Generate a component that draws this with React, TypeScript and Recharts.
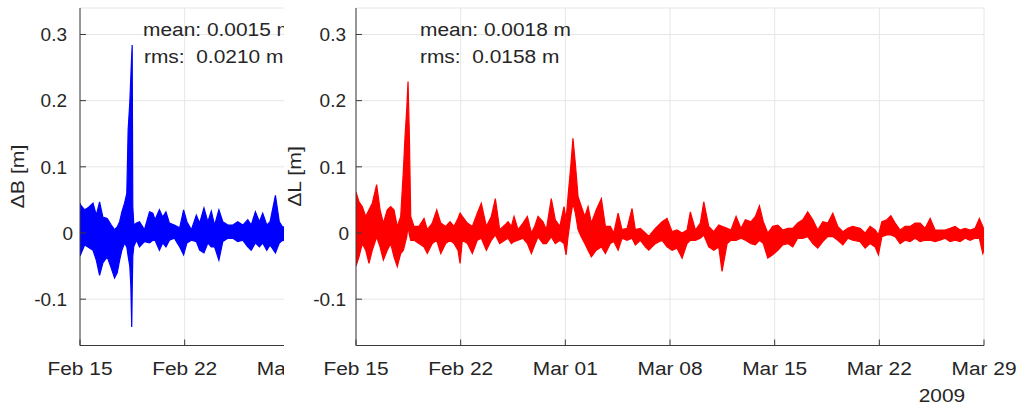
import React from 'react';
import { ComposedChart, Area, XAxis, YAxis, CartesianGrid } from 'recharts';

const FONT = '"Liberation Sans", Arial, Helvetica, sans-serif';
const TXT = '#262626';
const AX = '#3a3a3a';
const GRID = '#e6e6e6';
const FS = 19;
const SX = 1.1;

// x axis: days since Feb 15, 2009
const dayTicks = [0, 7, 14, 21, 28, 35, 42];
const dayLabels = ['Feb 15', 'Feb 22', 'Mar 01', 'Mar 08', 'Mar 15', 'Mar 22', 'Mar 29'];
const leftDayTicks = [0, 7, 14];
const yTicks = [-0.1, 0, 0.1, 0.2, 0.3];
const yLabels = ['-0.1', '0', '0.1', '0.2', '0.3'];
const yDomain = [-0.17, 0.34];

// ΔB envelope (upper / lower)
const bDays = [0, 0.05, 0.31, 0.53, 0.87, 1.09, 1.31, 1.53, 1.82, 2.09, 2.31, 2.49, 2.65, 2.8, 2.98, 3.13, 3.22, 3.33, 3.4, 3.46, 3.49, 3.53, 3.6, 3.78, 3.98, 4.31, 4.65, 4.87, 5.02, 5.31, 5.53, 5.75, 5.98, 6.31, 6.67, 6.93, 7.15, 7.45, 7.78, 8.0, 8.29, 8.55, 8.78, 9.0, 9.29, 9.55, 9.89, 10.22, 10.55, 10.89, 11.22, 11.45, 11.73, 12.0, 12.22, 12.49, 12.71, 13.07, 13.33, 13.55, 13.8];
const bHigh = [0.045, 0.042, 0.035, 0.038, 0.045, 0.027, 0.047, 0.024, 0.022, 0.012, 0.005, 0.009, 0.017, 0.032, 0.045, 0.06, 0.156, 0.197, 0.236, 0.27, 0.284, 0.04, 0.012, 0.015, 0.017, 0.005, 0.032, 0.03, 0.02, 0.035, 0.024, 0.032, 0.015, 0.012, 0.008, 0.035, 0.017, 0.005, 0.027, 0.015, 0.038, 0.017, 0.033, 0.012, 0.035, 0.017, 0.012, 0.012, 0.017, 0.012, 0.02, 0.012, 0.032, 0.017, 0.03, 0.012, 0.017, 0.057, 0.017, 0.009, 0.01];
const bLow = [-0.035, -0.032, -0.018, -0.021, -0.026, -0.041, -0.064, -0.045, -0.036, -0.053, -0.068, -0.06, -0.041, -0.026, -0.015, -0.021, -0.035, -0.05, -0.08, -0.142, -0.09, -0.035, -0.02, -0.011, -0.021, -0.013, -0.015, -0.011, -0.011, -0.026, -0.015, -0.021, -0.011, -0.008, -0.021, -0.033, -0.015, -0.011, -0.013, -0.026, -0.03, -0.015, -0.021, -0.021, -0.041, -0.013, -0.008, -0.008, -0.013, -0.011, -0.021, -0.026, -0.015, -0.021, -0.015, -0.026, -0.018, -0.03, -0.015, -0.011, -0.012];

// ΔL envelope (upper / lower)
const lDays = [0, 0.2, 0.42, 0.65, 0.87, 1.09, 1.38, 1.61, 1.83, 2.09, 2.32, 2.54, 2.76, 2.99, 3.17, 3.28, 3.39, 3.48, 3.57, 3.66, 3.88, 4.21, 4.55, 4.77, 5.1, 5.4, 5.67, 6.0, 6.29, 6.56, 6.82, 6.96, 7.11, 7.45, 7.78, 8.11, 8.38, 8.72, 9.05, 9.32, 9.61, 9.95, 10.17, 10.39, 10.57, 10.84, 11.17, 11.46, 11.73, 11.95, 12.17, 12.51, 12.73, 13.06, 13.33, 13.63, 13.91, 14.05, 14.18, 14.36, 14.51, 14.67, 14.85, 15.07, 15.3, 15.52, 15.74, 16.07, 16.41, 16.68, 17.01, 17.24, 17.53, 17.79, 18.13, 18.46, 18.68, 19.02, 19.35, 19.58, 20.02, 20.47, 20.8, 21.14, 21.47, 21.81, 22.14, 22.36, 22.7, 23.03, 23.26, 23.59, 23.93, 24.26, 24.48, 24.82, 25.08, 25.42, 25.75, 26.04, 26.42, 26.71, 26.98, 27.24, 27.54, 27.87, 28.21, 28.54, 28.88, 29.21, 29.54, 29.88, 30.21, 30.55, 30.88, 31.22, 31.55, 31.89, 32.22, 32.56, 32.89, 33.22, 33.71, 34.05, 34.38, 34.72, 34.94, 35.17, 35.5, 35.77, 36.06, 36.39, 36.72, 37.06, 37.39, 37.73, 38.06, 38.4, 38.73, 39.06, 39.4, 39.73, 40.07, 40.4, 40.74, 41.07, 41.4, 41.69, 41.92, 42];
const lHigh = [0.062, 0.047, 0.04, 0.025, 0.035, 0.045, 0.073, 0.035, 0.015, 0.035, 0.04, 0.035, 0.01, 0.025, 0.095, 0.146, 0.186, 0.229, 0.146, 0.025, 0.01, 0.01, 0.022, 0.005, 0.015, 0.035, 0.015, 0.01, 0.017, 0.01, 0.022, 0.03, 0.025, 0.015, 0.01, 0.03, 0.045, 0.01, 0.025, 0.052, 0.005, 0.012, 0.017, 0.01, 0.025, 0.005, 0.015, 0.025, 0.0, 0.01, 0.025, 0.017, 0.005, 0.052, 0.02, 0.01, 0.04, 0.02, 0.055, 0.1, 0.143, 0.105, 0.055, 0.04, 0.025, 0.04, 0.015, 0.035, 0.052, 0.01, 0.01, 0.0, 0.03, 0.005, 0.007, 0.037, 0.005, 0.007, 0.0, -0.005, 0.007, 0.017, 0.022, 0.002, 0.0045, 0.0, 0.0045, 0.032, 0.0045, 0.015, 0.047, 0.01, 0.002, 0.012, 0.01, 0.007, 0.0045, 0.025, 0.007, 0.02, 0.017, 0.025, 0.041, 0.017, 0.0, 0.01, 0.012, 0.0045, 0.007, 0.007, 0.015, 0.02, 0.032, 0.02, 0.0045, 0.017, 0.015, 0.03, 0.01, 0.002, 0.007, 0.01, 0.007, 0.0, 0.01, 0.0045, -0.003, 0.017, 0.02, 0.026, 0.015, 0.0045, 0.01, 0.01, 0.015, 0.015, 0.007, 0.022, 0.0045, 0.0045, 0.0045, 0.007, 0.01, 0.0045, 0.007, 0.0045, 0.007, 0.022, 0.01, 0.0045];
const lLow = [-0.05, -0.036, -0.016, -0.026, -0.046, -0.026, -0.006, -0.021, -0.041, -0.026, -0.016, -0.036, -0.051, -0.031, -0.026, -0.016, -0.006, 0.01, -0.003, -0.011, -0.011, -0.016, -0.021, -0.031, -0.016, -0.011, -0.031, -0.016, -0.011, -0.016, -0.026, -0.046, -0.011, -0.016, -0.031, -0.011, -0.008, -0.026, -0.011, -0.003, -0.016, -0.011, -0.008, -0.016, -0.013, -0.011, -0.008, -0.016, -0.031, -0.018, -0.006, -0.016, -0.016, -0.006, -0.016, -0.011, -0.016, -0.033, -0.006, 0.025, 0.045, 0.03, 0.005, -0.006, -0.016, -0.026, -0.036, -0.026, -0.021, -0.031, -0.016, -0.013, -0.026, -0.008, -0.011, -0.008, -0.018, -0.011, -0.021, -0.026, -0.016, -0.011, -0.021, -0.026, -0.023, -0.038, -0.016, -0.011, -0.011, -0.008, -0.003, -0.021, -0.026, -0.021, -0.058, -0.016, -0.011, -0.011, -0.008, -0.011, -0.016, -0.018, -0.011, -0.016, -0.038, -0.033, -0.026, -0.018, -0.016, -0.021, -0.008, -0.008, -0.0055, -0.016, -0.023, -0.013, -0.0055, -0.0055, -0.011, -0.018, -0.008, -0.011, -0.013, -0.023, -0.016, -0.021, -0.033, -0.0055, -0.003, -0.003, -0.0055, -0.016, -0.011, -0.013, -0.008, -0.013, -0.011, -0.011, -0.013, -0.011, -0.008, -0.013, -0.011, -0.013, -0.008, -0.011, -0.008, -0.008, -0.031, -0.026];

const bData = bDays.map((d, i) => ({ day: d, band: [bLow[i], bHigh[i]] }));
const lData = lDays.map((d, i) => ({ day: d, band: [lLow[i], lHigh[i]] }));

const TICK_LEN = 6;

const BottomTick = (props: any) => {
  const { x, y, payload } = props;
  const i = dayTicks.indexOf(payload.value);
  return (
    <g>
      <line x1={x} x2={x} y1={y} y2={y - TICK_LEN} stroke={AX} strokeWidth={1} />
      <text
        transform={`translate(${x} ${y + 29.5}) scale(${SX} 1)`}
        textAnchor="middle"
        fill={TXT}
        fontSize={FS}
        fontFamily={FONT}
      >
        {dayLabels[i]}
      </text>
    </g>
  );
};

const TopTick = (props: any) => {
  const { x, y } = props;
  return <line x1={x} x2={x} y1={y} y2={y + TICK_LEN} stroke={AX} strokeWidth={1} />;
};

const makeLeftTick = (gap: number, zeroGap: number) => (props: any) => {
  const { x, y, payload } = props;
  const i = yTicks.indexOf(payload.value);
  const g = payload.value === 0 ? zeroGap : gap;
  return (
    <g>
      <line x1={x} x2={x + TICK_LEN} y1={y} y2={y} stroke={AX} strokeWidth={1} />
      <text x={x - g} y={y} dy="0.36em" textAnchor="end" fill={TXT} fontSize={FS} fontFamily={FONT}>
        {yLabels[i]}
      </text>
    </g>
  );
};

const RightTick = (props: any) => {
  const { x, y } = props;
  return <line x1={x} x2={x - TICK_LEN} y1={y} y2={y} stroke={AX} strokeWidth={1} />;
};

type PanelProps = {
  data: any[];
  color: string;
  width: number;
  yAxisWidth: number;
  right: number;
  gap: number;
  zeroGap: number;
  showRight: boolean;
  xTicks: number[];
};

const Panel = ({ data, color, width, yAxisWidth, right, gap, zeroGap, showRight, xTicks }: PanelProps) => (
  <ComposedChart width={width} height={406} data={data} margin={{ top: 8, right, bottom: 0, left: 0 }}>
    <CartesianGrid xAxisId="b" yAxisId="l" stroke={GRID} strokeWidth={1} />
    <XAxis
      xAxisId="b"
      type="number"
      dataKey="day"
      domain={[0, 42]}
      ticks={xTicks}
      allowDataOverflow
      height={60.5}
      tickSize={0}
      tickMargin={0}
      tick={BottomTick}
      axisLine={{ stroke: AX, strokeWidth: 1 }}
      tickLine={false}
      interval={0}
    />
    <XAxis
      xAxisId="t"
      orientation="top"
      type="number"
      dataKey="day"
      domain={[0, 42]}
      ticks={xTicks}
      allowDataOverflow
      height={0}
      tickSize={0}
      tickMargin={0}
      tick={TopTick}
      axisLine={{ stroke: AX, strokeWidth: 1 }}
      tickLine={false}
      interval={0}
    />
    <YAxis
      yAxisId="l"
      type="number"
      domain={yDomain}
      ticks={yTicks}
      allowDataOverflow
      width={yAxisWidth}
      tickSize={0}
      tickMargin={0}
      tick={makeLeftTick(gap, zeroGap)}
      axisLine={{ stroke: AX, strokeWidth: 1 }}
      tickLine={false}
      interval={0}
    />
    {showRight && (
      <YAxis
        yAxisId="r"
        orientation="right"
        type="number"
        domain={yDomain}
        ticks={yTicks}
        allowDataOverflow
        width={0}
        tickSize={0}
        tickMargin={0}
        tick={RightTick}
        axisLine={{ stroke: AX, strokeWidth: 1 }}
        tickLine={false}
        interval={0}
      />
    )}
    <Area
      xAxisId="b"
      yAxisId="l"
      type="linear"
      dataKey="band"
      stroke={color}
      strokeWidth={1.2}
      fill={color}
      fillOpacity={1}
      dot={false}
      activeDot={false}
      isAnimationActive={false}
    />
  </ComposedChart>
);

const txt = (x: number, y: number, s: string, anchor: string = 'start') => (
  <text
    transform={`translate(${x} ${y}) scale(${SX} 1)`}
    textAnchor={anchor}
    fill={TXT}
    fontSize={FS}
    fontFamily={FONT}
    style={{ whiteSpace: 'pre' }}
  >
    {s}
  </text>
);

const vlabel = (x: number, y: number, s: string) => (
  <text
    transform={`translate(${x} ${y}) rotate(-90) scale(1.12 1)`}
    textAnchor="middle"
    fill={TXT}
    fontSize={FS}
    fontFamily={FONT}
  >
    {s}
  </text>
);

export default function App() {
  return (
    <div style={{ position: 'absolute', left: 0, top: 0, width: 1017, height: 406, background: '#fff', overflow: 'hidden' }}>
      <div style={{ position: 'absolute', left: 0, top: 0, width: 284, height: 406, overflow: 'hidden' }}>
        <Panel data={bData} color="#0000ff" width={720} yAxisWidth={80} right={12} gap={13} zeroGap={7} showRight={false} xTicks={leftDayTicks} />
        <svg width={284} height={406} style={{ position: 'absolute', left: 0, top: 0, pointerEvents: 'none' }}>
          {txt(143, 36, 'mean: 0.0015 m')}
          {txt(144, 63, 'rms:  0.0210 m')}
          {vlabel(24, 176.5, 'ΔB [m]')}
        </svg>
      </div>
      <div style={{ position: 'absolute', left: 284, top: 0, width: 733, height: 406, background: '#fff' }}>
        <Panel data={lData} color="#ff0000" width={733} yAxisWidth={72} right={33} gap={10} zeroGap={7} showRight={true} xTicks={dayTicks} />
        <svg width={733} height={406} style={{ position: 'absolute', left: 0, top: 0, pointerEvents: 'none' }}>
          {txt(136, 36, 'mean: 0.0018 m')}
          {txt(136, 63, 'rms:  0.0158 m')}
          {txt(658, 402, '2009', 'middle')}
          {vlabel(17, 176.5, 'ΔL [m]')}
        </svg>
      </div>
    </div>
  );
}
